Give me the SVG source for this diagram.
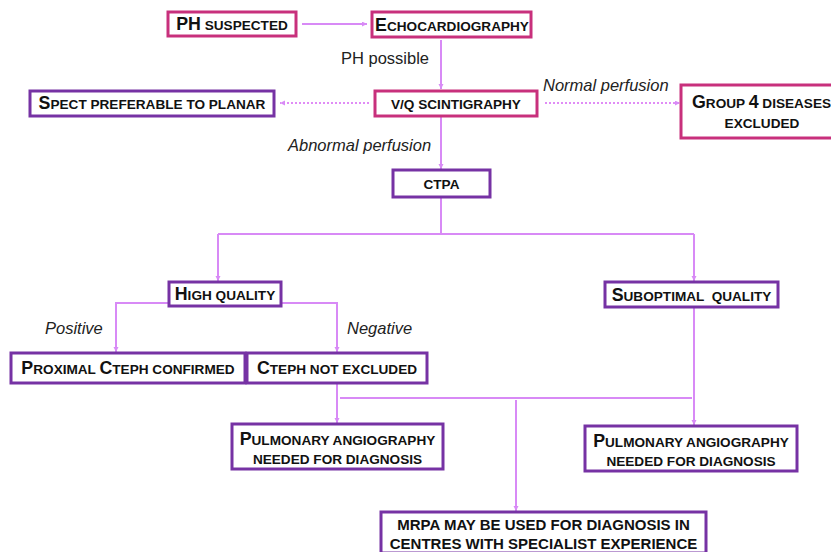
<svg xmlns="http://www.w3.org/2000/svg" width="831" height="552" viewBox="0 0 831 552">
<defs>
<style>
.bp{fill:#fff;stroke:#c8307c;stroke-width:3}
.bv{fill:#fff;stroke:#7632a4;stroke-width:3}
.t{font-family:"Liberation Sans",Arial,sans-serif;font-weight:bold;font-size:13.6px;fill:#111;text-anchor:middle}
.b{font-size:17.8px}
.m{font-size:15px}
.lbl{font-family:"Liberation Sans",Arial,sans-serif;font-size:16.5px;fill:#222}
.it{font-style:italic}
.c{fill:none;stroke:#d88af6;stroke-width:2}
.d{fill:none;stroke:#e08cf6;stroke-width:2;stroke-dasharray:2 2}
</style>
<marker id="ah" markerUnits="userSpaceOnUse" markerWidth="6" markerHeight="6" refX="5" refY="2.5" orient="auto">
<path d="M0,0 L5,2.5 L0,5 z" fill="#d88af6"/>
</marker>
</defs>

<g id="connectors">
<line class="c" x1="302" y1="24" x2="367" y2="24" marker-end="url(#ah)"/>
<line class="c" x1="441" y1="40" x2="441" y2="89" marker-end="url(#ah)"/>
<line class="d" x1="369" y1="103" x2="280" y2="103" marker-end="url(#ah)"/>
<line class="d" x1="545" y1="103" x2="680" y2="103" marker-end="url(#ah)"/>
<line class="c" x1="441" y1="116" x2="441" y2="169" marker-end="url(#ah)"/>
<path class="c" d="M441,197 V234 M218,234 H694"/>
<path class="c" d="M218,234 V281" marker-end="url(#ah)"/>
<path class="c" d="M694,234 V281" marker-end="url(#ah)"/>
<path class="c" d="M169,303 H116 V352" marker-end="url(#ah)"/>
<path class="c" d="M281,303 H337 V352" marker-end="url(#ah)"/>
<path class="c" d="M337,384 V423" marker-end="url(#ah)"/>
<path class="c" d="M340,398 H692"/>
<path class="c" d="M694,308 V425" marker-end="url(#ah)"/>
<path class="c" d="M516,400 V511" marker-end="url(#ah)"/>
</g>

<g id="labels">
<text class="lbl" x="341" y="64">PH possible</text>
<text class="lbl it" x="543" y="91">Normal perfusion</text>
<text class="lbl it" x="288" y="151">Abnormal perfusion</text>
<text class="lbl it" x="45" y="334">Positive</text>
<text class="lbl it" x="347" y="334">Negative</text>
</g>

<g id="ph-suspected">
<rect class="bp" x="168" y="12" width="128" height="24"/>
<text class="t" x="232" y="30"><tspan class="b">PH</tspan> SUSPECTED</text>
</g>
<g id="echocardiography">
<rect class="bp" x="372" y="12" width="159" height="25"/>
<text class="t" x="452" y="30.5"><tspan class="b">E</tspan>CHOCARDIOGRAPHY</text>
</g>
<g id="vq-scintigraphy">
<rect class="bp" x="375" y="91" width="162" height="25"/>
<text class="t" x="456" y="108.5">V/Q SCINTIGRAPHY</text>
</g>
<g id="spect">
<rect class="bv" x="30" y="91" width="244" height="25"/>
<text class="t" x="152" y="109"><tspan class="b">S</tspan>PECT PREFERABLE TO PLANAR</text>
</g>
<g id="group4">
<rect class="bp" x="681" y="85" width="154" height="53"/>
<text class="t" x="692" y="108" style="text-anchor:start"><tspan class="b">G</tspan>ROUP <tspan class="b">4</tspan> DISEASES</text>
<text class="t" x="762" y="128">EXCLUDED</text>
</g>
<g id="ctpa">
<rect class="bv" x="393" y="170" width="97" height="27"/>
<text class="t" x="441.5" y="188.5">CTPA</text>
</g>
<g id="high-quality">
<rect class="bv" x="169" y="282" width="112" height="24"/>
<text class="t" x="225" y="300"><tspan class="b">H</tspan>IGH QUALITY</text>
</g>
<g id="suboptimal-quality">
<rect class="bv" x="605" y="282" width="173" height="25"/>
<text class="t" x="691.5" y="300.5" xml:space="preserve"><tspan class="b">S</tspan>UBOPTIMAL  QUALITY</text>
</g>
<g id="proximal-cteph">
<rect class="bv" x="11" y="353" width="234" height="30"/>
<text class="t" x="128" y="374"><tspan class="b">P</tspan>ROXIMAL <tspan class="b">C</tspan>TEPH CONFIRMED</text>
</g>
<g id="cteph-not-excluded">
<rect class="bv" x="247" y="353" width="180" height="30"/>
<text class="t" x="337" y="374"><tspan class="b">C</tspan>TEPH NOT EXCLUDED</text>
</g>
<g id="pulmonary-1">
<rect class="bv" x="232" y="424" width="211" height="45"/>
<text class="t" x="337.5" y="444.5"><tspan class="b">P</tspan>ULMONARY ANGIOGRAPHY</text>
<text class="t" x="337.5" y="463.5">NEEDED FOR DIAGNOSIS</text>
</g>
<g id="pulmonary-2">
<rect class="bv" x="585" y="426" width="212" height="45"/>
<text class="t" x="691" y="446.5"><tspan class="b">P</tspan>ULMONARY ANGIOGRAPHY</text>
<text class="t" x="691" y="465.5">NEEDED FOR DIAGNOSIS</text>
</g>
<g id="mrpa">
<rect class="bv" x="381" y="512" width="325" height="41"/>
<text class="t m" x="543.5" y="530">MRPA MAY BE USED FOR DIAGNOSIS IN</text>
<text class="t m" x="543.5" y="549">CENTRES WITH SPECIALIST EXPERIENCE</text>
</g>
</svg>
